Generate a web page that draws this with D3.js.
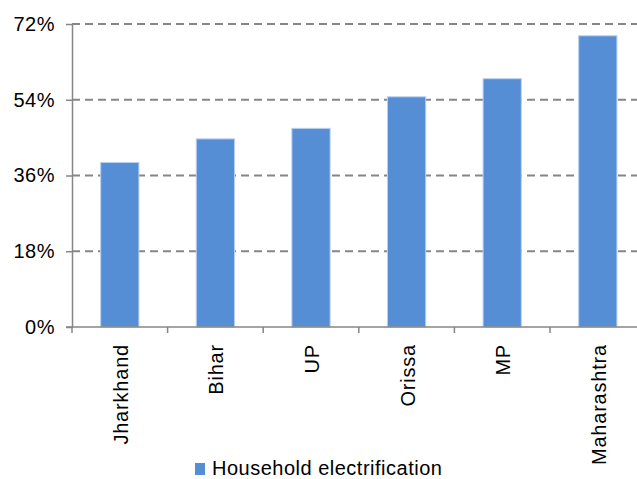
<!DOCTYPE html>
<html>
<head>
<meta charset="utf-8">
<script src="https://cdn.jsdelivr.net/npm/d3@7"></script>
<style>
  body { margin: 0; background: #fff; }
  text { font-family: "Liberation Sans", Arial, sans-serif; fill: #000; }
</style>
</head>
<body>
<svg id="chart" width="637" height="479"></svg>
<script>
const states = ["Jharkhand", "Bihar", "UP", "Orissa", "MP", "Maharashtra"];
const electrification = [39.1, 44.7, 47.2, 54.7, 59.0, 69.2];
const yTicks = [0, 18, 36, 54, 72];
const seriesName = "Household electrification";

const svg = d3.select("#chart");
const plotLeft = 72, plotTop = 24, plotBottom = 327;
const axisColor = "#868686";
const barColor = "#558ed5";

// chart continues a bit past the right edge of the picture
const x = d3.scaleBand().domain(states).range([plotLeft, plotLeft + 6 * 95.6]).padding(0);
const y = d3.scaleLinear().domain([0, 72]).range([plotBottom, plotTop]);

// dashed gridlines
svg.selectAll(".grid")
  .data(yTicks.filter(d => d > 0))
  .enter().append("line")
  .attr("x1", plotLeft).attr("x2", 637)
  .attr("y1", d => y(d)).attr("y2", d => y(d))
  .attr("stroke", axisColor)
  .attr("stroke-width", 2)
  .attr("stroke-dasharray", "8,5");

// bars
const bw = x.bandwidth() * 0.4;
svg.selectAll(".bar")
  .data(states)
  .enter().append("rect")
  .attr("x", d => x(d) + (x.bandwidth() - bw) / 2)
  .attr("y", (d, i) => y(electrification[i]))
  .attr("width", bw)
  .attr("height", (d, i) => plotBottom - y(electrification[i]))
  .attr("fill", barColor)
  .attr("stroke", "#b9cff0")
  .attr("stroke-width", 1);

// y axis
const yAxis = svg.append("g").attr("transform", `translate(${plotLeft},0)`)
  .call(d3.axisLeft(y).tickValues(yTicks).tickFormat(d => d + "%").tickSize(6).tickSizeOuter(0));
yAxis.select(".domain").attr("stroke", axisColor).attr("stroke-width", 1.5);
yAxis.selectAll(".tick line").attr("stroke", axisColor).attr("stroke-width", 1.5);
yAxis.selectAll(".tick text")
  .attr("x", -17)
  .style("font-size", "20px")
  .style("letter-spacing", "0.5px")
  .style("font-family", "'Liberation Sans', Arial, sans-serif")
  .attr("fill", "#000");

// x axis line and ticks at band boundaries
svg.append("line")
  .attr("x1", plotLeft - 6).attr("x2", 637)
  .attr("y1", plotBottom).attr("y2", plotBottom)
  .attr("stroke", axisColor).attr("stroke-width", 1.5);
svg.selectAll(".xtick")
  .data(states)
  .enter().append("line")
  .attr("x1", d => x(d)).attr("x2", d => x(d))
  .attr("y1", plotBottom).attr("y2", plotBottom + 6)
  .attr("stroke", axisColor).attr("stroke-width", 1.5);

// rotated category labels
svg.selectAll(".xlabel")
  .data(states)
  .enter().append("text")
  .attr("transform", d => `translate(${x(d) + x.bandwidth() / 2 + 8},344) rotate(-90)`)
  .attr("text-anchor", "end")
  .style("font-size", "20px")
  .style("letter-spacing", "0.8px")
  .text(d => d);

// legend
svg.append("rect")
  .attr("x", 195).attr("y", 463).attr("width", 10).attr("height", 12)
  .attr("fill", barColor);
svg.append("text")
  .attr("x", 212).attr("y", 475)
  .style("font-size", "20px")
  .style("letter-spacing", "0.5px")
  .text(seriesName);
</script>
</body>
</html>
